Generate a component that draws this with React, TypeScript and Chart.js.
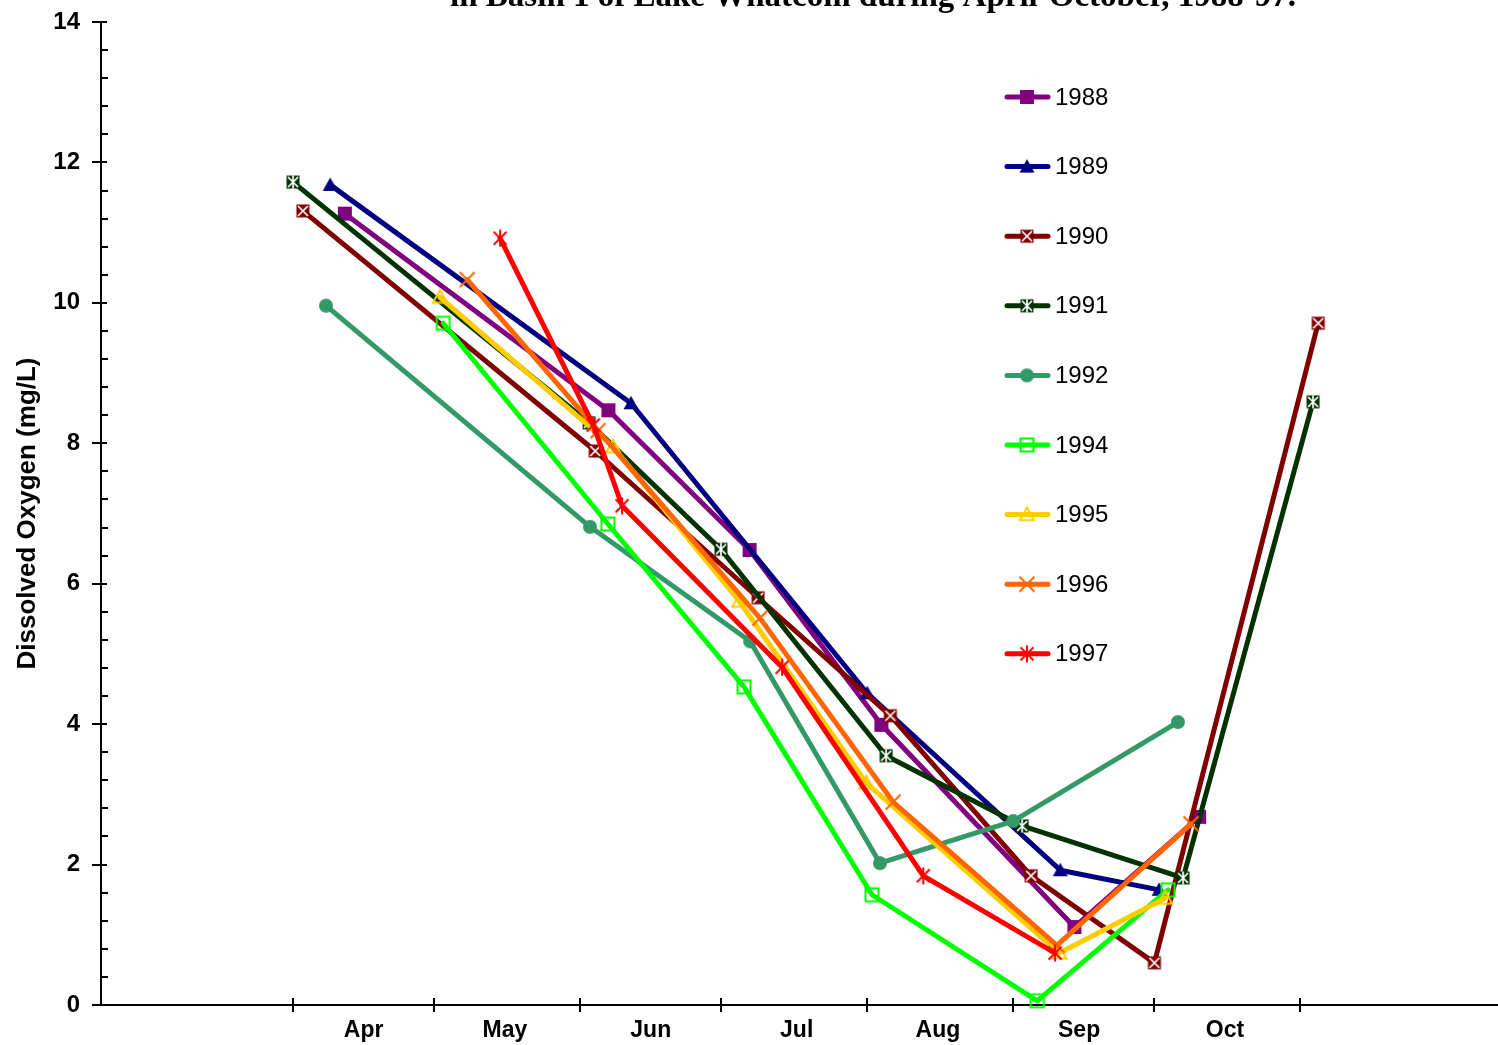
import React, { useEffect, useRef } from 'react';
import { Chart, registerables } from 'chart.js';

Chart.register(...registerables);

// Day-of-year (x) and dissolved oxygen in mg/L (y)
const monthStarts = [91, 121, 152, 182, 213, 244, 274, 305];
const monthLabels = ['Apr', 'May', 'Jun', 'Jul', 'Aug', 'Sep', 'Oct'];
const monthLabelDays = [106, 136, 167, 198, 228, 258, 289];
const yTickLabels = [0, 2, 4, 6, 8, 10, 12, 14];

const years = ['1988', '1989', '1990', '1991', '1992', '1994', '1995', '1996', '1997'];

const days1988 = [102, 158, 188, 216, 257, 283.5];
const do1988 = [11.27, 8.47, 6.48, 3.99, 1.11, 2.68];

const days1989 = [98.9, 162.8, 213, 254, 275];
const do1989 = [11.68, 8.57, 4.44, 1.92, 1.64];

const days1990 = [93.1, 155.2, 189.8, 217.9, 247.8, 274, 308.8];
const do1990 = [11.31, 7.89, 5.8, 4.12, 1.84, 0.6, 9.71];

const days1991 = [91, 153.9, 181.9, 217, 245.9, 280.1, 307.7];
const do1991 = [11.72, 8.29, 6.49, 3.55, 2.55, 1.81, 8.59];

const days1992 = [98, 154.1, 188.1, 215.7, 244, 279];
const do1992 = [9.96, 6.81, 5.18, 2.02, 2.62, 4.03];

const days1994 = [122.9, 157.9, 186.8, 214, 249.1, 276.9];
const do1994 = [9.71, 6.85, 4.53, 1.57, 0.06, 1.64];

const days1995 = [122.2, 159, 185.8, 212.8, 253.8, 276.3];
const do1995 = [10.08, 7.95, 5.75, 3.16, 0.74, 1.52];

const days1996 = [128, 155.8, 190.2, 218.5, 253.3, 281.8];
const do1996 = [10.33, 8.18, 5.51, 2.89, 0.85, 2.58];

const days1997 = [135, 154.8, 160.9, 194.9, 224.9, 252.9];
const do1997 = [10.92, 8.26, 7.11, 4.81, 1.84, 0.74];

const allDays = [days1988, days1989, days1990, days1991, days1992, days1994, days1995, days1996, days1997];
const allDO = [do1988, do1989, do1990, do1991, do1992, do1994, do1995, do1996, do1997];

const colors = ['#800080', '#000080', '#800000', '#003300', '#339966', '#00FF00', '#FFCC00', '#FF6600', '#FF0000'];
const markers = ['square', 'triangle', 'sqX', 'sqStar', 'circle', 'hollowSquare', 'hollowTriangle', 'cross', 'asterisk'];

function makeMarker(type: string, color: string): HTMLCanvasElement {
  const c = document.createElement('canvas');
  c.width = 18;
  c.height = 18;
  const g = c.getContext('2d')!;
  const m = 9;
  g.lineCap = 'butt';
  if (type === 'square') {
    g.fillStyle = color;
    g.fillRect(m - 7, m - 7, 14, 14);
  } else if (type === 'triangle') {
    g.fillStyle = color;
    g.beginPath();
    g.moveTo(m, m - 7.5);
    g.lineTo(m + 7.5, m + 6);
    g.lineTo(m - 7.5, m + 6);
    g.closePath();
    g.fill();
  } else if (type === 'sqX' || type === 'sqStar') {
    g.fillStyle = color;
    g.fillRect(m - 6.5, m - 6.5, 13, 13);
    g.strokeStyle = '#ffffff';
    g.lineWidth = 1.7;
    g.beginPath();
    g.moveTo(m - 5, m - 5);
    g.lineTo(m + 5, m + 5);
    g.moveTo(m + 5, m - 5);
    g.lineTo(m - 5, m + 5);
    if (type === 'sqStar') {
      g.moveTo(m, m - 6.5);
      g.lineTo(m, m + 6.5);
    }
    g.stroke();
  } else if (type === 'circle') {
    g.fillStyle = color;
    g.beginPath();
    g.arc(m, m, 7, 0, Math.PI * 2);
    g.fill();
  } else if (type === 'hollowSquare') {
    g.strokeStyle = color;
    g.lineWidth = 2;
    g.strokeRect(m - 6.5, m - 6.5, 13, 13);
  } else if (type === 'hollowTriangle') {
    g.strokeStyle = color;
    g.lineWidth = 2;
    g.beginPath();
    g.moveTo(m, m - 7);
    g.lineTo(m + 7, m + 5.5);
    g.lineTo(m - 7, m + 5.5);
    g.closePath();
    g.stroke();
  } else if (type === 'cross') {
    g.strokeStyle = color;
    g.lineWidth = 2;
    g.beginPath();
    g.moveTo(m - 7.5, m - 7.5);
    g.lineTo(m + 7.5, m + 7.5);
    g.moveTo(m + 7.5, m - 7.5);
    g.lineTo(m - 7.5, m + 7.5);
    g.stroke();
  } else if (type === 'asterisk') {
    g.strokeStyle = color;
    g.lineWidth = 2;
    g.beginPath();
    g.moveTo(m - 6.5, m - 6.5);
    g.lineTo(m + 6.5, m + 6.5);
    g.moveTo(m + 6.5, m - 6.5);
    g.lineTo(m - 6.5, m + 6.5);
    g.moveTo(m, m - 8.5);
    g.lineTo(m, m + 8.5);
    g.stroke();
  }
  return c;
}

function noScalePadding(scale: any) {
  scale.paddingTop = 0;
  scale.paddingBottom = 0;
  scale.paddingLeft = 0;
  scale.paddingRight = 0;
}

export default function App() {
  const ref = useRef<HTMLCanvasElement | null>(null);

  useEffect(() => {
    if (!ref.current) return;
    const images = markers.map((t, i) => makeMarker(t, colors[i]));
    const n = years.length;

    const datasets = years.map((yr, i) => ({
      label: yr,
      data: allDays[i].map((d, j) => ({ x: d, y: allDO[i][j] })),
      borderColor: colors[i],
      backgroundColor: colors[i],
      borderWidth: 5,
      borderJoinStyle: 'round' as const,
      borderCapStyle: 'round' as const,
      tension: 0,
      pointStyle: images[i],
      pointRadius: 7,
      pointHoverRadius: 7,
      order: n - i,
      clip: false as const,
    }));

    const axisTicks = {
      id: 'axisTicks',
      afterDraw(chart: any) {
        const ctx = chart.ctx;
        const xs = chart.scales.x;
        const ys = chart.scales.y;
        const x0 = chart.chartArea.left;
        const y0 = chart.chartArea.bottom;
        ctx.save();
        ctx.strokeStyle = '#000';
        ctx.lineWidth = 2;
        ctx.beginPath();
        for (let i = 0; i <= 35; i++) {
          const py = Math.round(ys.getPixelForValue(i * 0.4));
          if (i % 5 === 0) {
            ctx.moveTo(x0 - 9, py);
            ctx.lineTo(x0 + 6, py);
          } else {
            ctx.moveTo(x0, py);
            ctx.lineTo(x0 + 7, py);
          }
        }
        monthStarts.forEach((d) => {
          const px = Math.round(xs.getPixelForValue(d));
          ctx.moveTo(px, y0 - 7);
          ctx.lineTo(px, y0 + 7);
        });
        ctx.stroke();
        ctx.restore();
      },
    };

    const legendAndTitle = {
      id: 'legendAndTitle',
      afterDraw(chart: any) {
        const ctx = chart.ctx;
        ctx.save();
        // title (partly cut off at the top)
        ctx.fillStyle = '#000';
        ctx.font = 'bold 33px "Liberation Serif", "Times New Roman", serif';
        ctx.textAlign = 'center';
        ctx.textBaseline = 'alphabetic';
        ctx.fillText('in Basin 1 of Lake Whatcom during April-October, 1988-97.', 873, 6);
        // legend
        ctx.textAlign = 'left';
        ctx.textBaseline = 'middle';
        ctx.font = '24px "Liberation Sans", Arial, sans-serif';
        years.forEach((yr, i) => {
          const y = 97 + i * 69.6;
          ctx.strokeStyle = colors[i];
          ctx.lineWidth = 5;
          ctx.lineCap = 'round';
          ctx.beginPath();
          ctx.moveTo(1007, y);
          ctx.lineTo(1048, y);
          ctx.stroke();
          const img = images[i];
          ctx.drawImage(img, 1027 - img.width / 2, y - img.height / 2);
          ctx.fillStyle = '#000';
          ctx.fillText(yr, 1055, y + 1);
        });
        ctx.restore();
      },
    };

    const chart = new Chart(ref.current, {
      type: 'line',
      data: { datasets },
      options: {
        animation: false,
        responsive: false,
        devicePixelRatio: 1,
        layout: { autoPadding: false, padding: { top: 22, right: 0, left: 0, bottom: 0 } },
        plugins: {
          legend: { display: false },
          title: { display: false },
          tooltip: { enabled: false },
        },
        scales: {
          x: {
            type: 'linear',
            min: 50.2,
            max: 347,
            grid: { display: false, drawTicks: false },
            border: { display: true, color: '#000', width: 2 },
            afterBuildTicks: (scale: any) => {
              scale.ticks = monthLabelDays.map((v) => ({ value: v }));
            },
            afterFit: (scale: any) => {
              scale.height = 40;
              noScalePadding(scale);
            },
            ticks: {
              autoSkip: false,
              maxRotation: 0,
              padding: 12,
              color: '#000',
              font: { family: '"Liberation Sans", Arial, sans-serif', size: 23, weight: 'bold' },
              callback: (_v: any, i: number) => monthLabels[i],
            },
          },
          y: {
            type: 'linear',
            min: 0,
            max: 14,
            grid: { display: false, drawTicks: false },
            border: { display: true, color: '#000', width: 2 },
            afterBuildTicks: (scale: any) => {
              scale.ticks = yTickLabels.map((v) => ({ value: v }));
            },
            afterFit: (scale: any) => {
              scale.width = 101;
              noScalePadding(scale);
            },
            ticks: {
              padding: 21,
              color: '#000',
              font: { family: '"Liberation Sans", Arial, sans-serif', size: 24, weight: 'bold' },
              callback: (v: any) => String(v),
            },
            title: {
              display: true,
              text: 'Dissolved Oxygen (mg/L)',
              color: '#000',
              padding: { top: 12, bottom: 0 },
              font: { family: '"Liberation Sans", Arial, sans-serif', size: 26, weight: 'bold' },
            },
          },
        },
      },
      plugins: [axisTicks, legendAndTitle],
    });

    return () => chart.destroy();
  }, []);

  return (
    <div style={{ position: 'fixed', left: 0, top: 0, width: 1498, height: 1045, background: '#fff' }}>
      <canvas ref={ref} width={1498} height={1045} style={{ display: 'block' }} />
    </div>
  );
}
